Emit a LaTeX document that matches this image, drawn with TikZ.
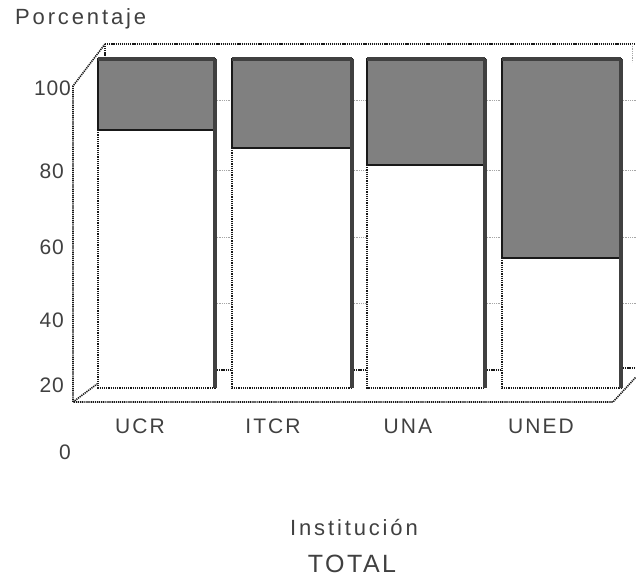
\documentclass[tikz,border=0pt]{standalone}
\usepackage{fontspec}
\setmainfont{Liberation Sans}
\newfontfamily\lblwide{Liberation Sans}[LetterSpace=13]
\newfontfamily\lblmid{Liberation Sans}[LetterSpace=10]
\newfontfamily\lblnum{Liberation Sans}[LetterSpace=4]
\begin{document}
\begin{tikzpicture}[x=1pt,y=-1pt,
  frame/.style={line width=1.6pt, dash pattern=on 1.2pt off 0.9pt, black!90},
  stub/.style={line width=0.8pt, densely dotted, black!35},
  lowseg/.style={fill=white, draw=black!90, line width=1.4pt, dash pattern=on 1.2pt off 1pt},
  topseg/.style={fill=black!50, draw=black!90, line width=1.3pt},
  edge/.style={line width=3.4pt, draw=black!75},
  txt/.style={text=black!75, inner sep=0pt},
  num/.style={txt, font=\lblnum\fontsize{21}{24}\selectfont},
  cat/.style={txt, font=\lblmid\fontsize{21}{24}\selectfont},
]
\useasboundingbox (0,0) rectangle (636,583);

% back wall
\coordinate (bwtl) at (105,44);
\coordinate (bwtr) at (636,44);
\coordinate (fl-top) at (73,86);
\coordinate (fl-bot) at (73,402);
\coordinate (fr-bot) at (613,402);
\coordinate (fr-end) at (636,377);
\coordinate (bfl) at (97,384);
\draw[frame] (bwtl) -- (bwtr);
\draw[frame] (bwtl) -- (fl-top) -- (fl-bot) -- (fr-bot) -- (fr-end);
\draw[frame] (fl-bot) -- (bfl);
\draw[frame] (bwtl) -- (105,60);
\draw[stub] (632,44) -- (632,62);

% grid stubs in the gaps
\foreach \y in {100,170,237,303}{
  \draw[stub] (215,\y) -- (232,\y);
  \draw[stub] (352,\y) -- (367,\y);
  \draw[stub] (485,\y) -- (502,\y);
  \draw[stub] (621,\y) -- (636,\y);
}
% floor links
\draw[frame] (215,370) -- (232,370);
\draw[frame] (352,370) -- (367,370);
\draw[frame] (485,370) -- (502,370);
\draw[frame] (621,368) -- (636,368);

% bars: left, right, divide
\foreach \l/\r/\d in {98/215/130, 232/352/148, 367/485/165, 502/621/258}{
  \draw[lowseg] (\l,\d) rectangle (\r,388);
  \draw[topseg] (\l,59) rectangle (\r,\d);
  \draw[edge] (\l,59) -- (\r,59);
  \draw[edge] (\r,59) -- (\r,388);
}

% texts
\node[txt, anchor=base west, font=\lblwide\fontsize{22}{25}\selectfont] (ylab) at (15,25) {Porcentaje};
\node[num, anchor=base east] (t100) at (71,95.5) {100};
\node[num, anchor=base east] (t80) at (64,178.5) {80};
\node[num, anchor=base east] (t60) at (64,254.5) {60};
\node[num, anchor=base east] (t40) at (64,327.5) {40};
\node[num, anchor=base east] (t20) at (64,392.5) {20};
\node[num, anchor=base] (t0) at (65,459.5) {0};
\node[cat, anchor=base] (cucr) at (140,433.5) {UCR};
\node[cat, anchor=base] (citcr) at (273,433.5) {ITCR};
\node[cat, anchor=base] (cuna) at (408,433.5) {UNA};
\node[cat, anchor=base] (cuned) at (541,433.5) {UNED};
\node[txt, anchor=base, font=\lblwide\fontsize{22}{25}\selectfont] (xlab) at (354,535) {Institución};
\node[txt, anchor=base, font=\lblmid\fontsize{25}{28}\selectfont] (total) at (352,572) {TOTAL};
\end{tikzpicture}
\end{document}
